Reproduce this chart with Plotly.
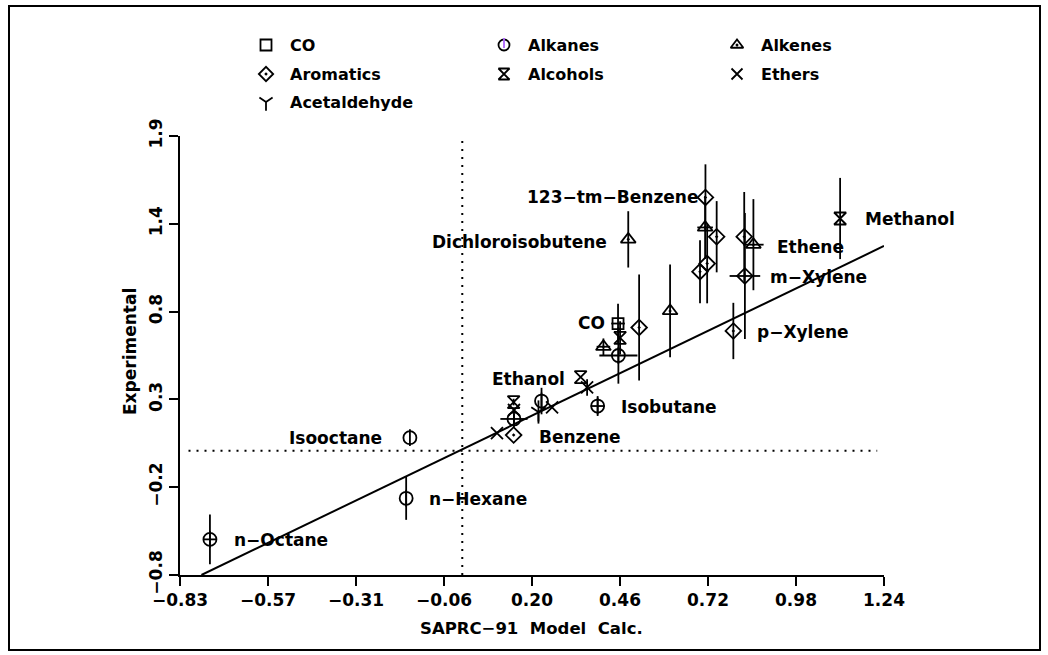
import numpy as np
import plotly.graph_objects as go

FONT = dict(family="DejaVu Sans", size=17, color="black", weight="bold")
TICKFONT = dict(family="DejaVu Sans", size=17, color="black", weight="bold")

W, H = 1048, 655

# ---- axis ticks -------------------------------------------------------
x_tick_vals = np.linspace(-0.83, 1.24, 9)
x_tick_text = ["−0.83", "−0.57", "−0.31", "−0.06", "0.20", "0.46", "0.72", "0.98", "1.24"]
y_tick_vals = np.linspace(-0.75, 1.9, 6)
y_tick_text = ["−0.8", "−0.2", "0.3", "0.8", "1.4", "1.9"]

# ---- data by compound class (x = model, y = experiment) ---------------
co_x = [0.458]
co_y = [0.768]
co_ex = [0.02]
co_ey = [0.12]

alkane_x = [-0.742, -0.165, -0.154, 0.398, 0.152, 0.233, 0.459]
alkane_y = [-0.535, -0.287, 0.079, 0.270, 0.192, 0.300, 0.575]
alkane_ex = [0.02, 0.0, 0.0, 0.02, 0.04, 0.0, 0.056]
alkane_ey = [0.15, 0.13, 0.0, 0.06, 0.03, 0.08, 0.17]

alkene_x = [0.488, 0.611, 0.415, 0.714, 0.856]
alkene_y = [1.276, 0.844, 0.628, 1.348, 1.244]
alkene_ex = [0.0, 0.0, 0.02, 0.023, 0.03]
alkene_ey = [0.17, 0.28, 0.05, 0.19, 0.275]

aromatic_x = [0.715, 0.748, 0.829, 0.831, 0.720, 0.699, 0.797, 0.520, 0.151]
aromatic_y = [1.529, 1.292, 1.292, 1.055, 1.130, 1.081, 0.723, 0.744, 0.095]
aromatic_ex = [0.0, 0.0, 0.0, 0.045, 0.0, 0.0, 0.0, 0.0, 0.0]
aromatic_ey = [0.20, 0.215, 0.27, 0.38, 0.24, 0.19, 0.17, 0.32, 0.0]

alcohol_x = [1.111, 0.348, 0.151, 0.464]
alcohol_y = [1.402, 0.445, 0.294, 0.681]
alcohol_ey = [0.245, 0.0, 0.02, 0.10]

ether_x = [0.367, 0.102, 0.264, 0.152]
ether_y = [0.382, 0.107, 0.262, 0.246]
ether_ey = [0.05, 0.0, 0.0, 0.0]

acetaldehyde_x = [0.224]
acetaldehyde_y = [0.234]
acetaldehyde_ey = [0.07]

# 1:1 reference line
fit_x = [-0.767, 1.24]
fit_y = [-0.75, 1.236]

# zero reference lines
zero_h_x = [-0.805, 1.22]
zero_h_y = [0.0, 0.0]
zero_v_x = [0.0, 0.0]
zero_v_y = [-0.75, 1.9]

# point labels: text, x, y, anchor side
label_text = ["123−tm−Benzene", "Dichloroisobutene", "Methanol", "Ethene", "m−Xylene",
              "p−Xylene", "CO", "Ethanol", "Isobutane", "Benzene", "Isooctane",
              "n−Hexane", "n−Octane"]
label_x = [0.699, 0.431, 1.178, 0.919, 0.899, 0.861, 0.426, 0.308, 0.461, 0.219,
           -0.230, -0.105, -0.678]
label_y = [1.529, 1.260, 1.400, 1.230, 1.050, 0.717, 0.769, 0.433, 0.266, 0.081,
           0.079, -0.293, -0.539]
label_side = ["right", "right", "left", "left", "left", "left", "right", "right",
              "left", "left", "right", "left", "left"]

# legend entries
legend_names = ["CO", "Alkanes", "Alkenes", "Aromatics", "Alcohols", "Ethers", "Acetaldehyde"]
legend_symbols = ["square-open", "circle-open", "triangle-up-open-dot", "diamond-open-dot",
                  "hourglass-open", "x-thin-open", "y-down-open"]

LW = 1.8
ERR = dict(type="data", visible=True, thickness=1.8, width=0, color="black")

fig = go.Figure()


def add_points(x, y, ex, ey, symbol, size):
    fig.add_trace(go.Scatter(
        x=x, y=y, mode="markers", showlegend=False, cliponaxis=False,
        marker=dict(symbol=symbol, size=size, color="black",
                    line=dict(color="black", width=LW)),
        error_x=dict(ERR, array=ex) if ex is not None else None,
        error_y=dict(ERR, array=ey) if ey is not None else None,
    ))


# reference lines
fig.add_trace(go.Scatter(x=zero_h_x, y=zero_h_y, mode="lines", showlegend=False,
                         line=dict(color="black", width=2, dash="2px,6px")))
fig.add_trace(go.Scatter(x=zero_v_x, y=zero_v_y, mode="lines", showlegend=False,
                         line=dict(color="black", width=2, dash="2px,6px")))
fig.add_trace(go.Scatter(x=fit_x, y=fit_y, mode="lines", showlegend=False,
                         line=dict(color="black", width=2)))

add_points(co_x, co_y, co_ex, co_ey, "square-open", 11)
add_points(alkane_x, alkane_y, alkane_ex, alkane_ey, "circle-open", 13)
add_points(alkane_x, alkane_y, None, None, "line-ns-open", 12)
add_points(alkene_x, alkene_y, alkene_ex, alkene_ey, "triangle-up-open-dot", 13)
add_points(aromatic_x, aromatic_y, aromatic_ex, aromatic_ey, "diamond-open-dot", 12)
add_points(alcohol_x, alcohol_y, None, alcohol_ey, "hourglass-open", 12)
add_points(ether_x, ether_y, None, ether_ey, "x-thin-open", 12)
add_points(acetaldehyde_x, acetaldehyde_y, None, acetaldehyde_ey, "y-down-open", 12)

annotations = []
for t, lx, ly, side in zip(label_text, label_x, label_y, label_side):
    annotations.append(dict(x=lx, y=ly, xref="x", yref="y", text=t, showarrow=False,
                            xanchor=side, yanchor="middle", font=FONT))

# legend drawn on a pixel-scaled overlay axis
leg_col_x = [266, 504, 737]
leg_row_y = [45, 74, 102]
leg_x = [leg_col_x[i % 3] for i in range(len(legend_names))]
leg_y = [leg_row_y[i // 3] for i in range(len(legend_names))]
for name, sym, sx, sy in zip(legend_names, legend_symbols, leg_x, leg_y):
    fig.add_trace(go.Scatter(
        x=[sx], y=[sy], xaxis="x2", yaxis="y2", mode="markers", showlegend=False,
        marker=dict(symbol=sym, size=11, color="black", line=dict(color="black", width=LW)),
    ))
    if name == "Alkanes":
        fig.add_trace(go.Scatter(
            x=[sx], y=[sy - 2], xaxis="x2", yaxis="y2", mode="markers", showlegend=False,
            marker=dict(symbol="line-ns-open", size=7, line=dict(color="black", width=LW)),
        ))
    annotations.append(dict(x=sx + 22, y=sy, xref="x2", yref="y2", text=name,
                            showarrow=False, xanchor="left", yanchor="middle",
                            font=dict(FONT, size=16)))

# axis titles
annotations.append(dict(x=531, y=628, xref="x2", yref="y2", text="SAPRC−91  Model  Calc.",
                        showarrow=False, xanchor="center", yanchor="middle",
                        font=dict(FONT, size=16.5)))
annotations.append(dict(x=130, y=352, xref="x2", yref="y2", text="Experimental",
                        showarrow=False, xanchor="center", yanchor="middle", textangle=-90,
                        font=dict(FONT, size=17)))

fig.update_layout(
    width=W, height=H,
    margin=dict(l=0, r=0, t=0, b=0),
    paper_bgcolor="white", plot_bgcolor="rgba(0,0,0,0)",
    showlegend=False,
    xaxis=dict(
        domain=[180 / W, 884 / W], range=[-0.83, 1.24], anchor="y",
        showgrid=False, zeroline=False, showline=True, linecolor="black", linewidth=2,
        ticks="outside", ticklen=9, tickwidth=2, tickcolor="black",
        tickvals=x_tick_vals, ticktext=x_tick_text, tickfont=TICKFONT,
        automargin=False,
    ),
    yaxis=dict(
        domain=[80 / H, 519 / H], range=[-0.75, 1.9], anchor="x",
        showgrid=False, zeroline=False, showline=True, linecolor="black", linewidth=2,
        ticks="outside", ticklen=9, tickwidth=2, tickcolor="black",
        tickvals=y_tick_vals, ticktext=y_tick_text, tickfont=TICKFONT, tickangle=-90,
        automargin=False,
    ),
    xaxis2=dict(domain=[0, 1], range=[0, W], visible=False, anchor="y2", fixedrange=True),
    yaxis2=dict(domain=[0, 1], range=[H, 0], visible=False, anchor="x2", fixedrange=True),
    annotations=annotations,
    shapes=[dict(type="rect", xref="x2", yref="y2", x0=9, y0=6, x1=1040, y1=650,
                 line=dict(color="black", width=2))],
)

fig.write_html("out.html")
